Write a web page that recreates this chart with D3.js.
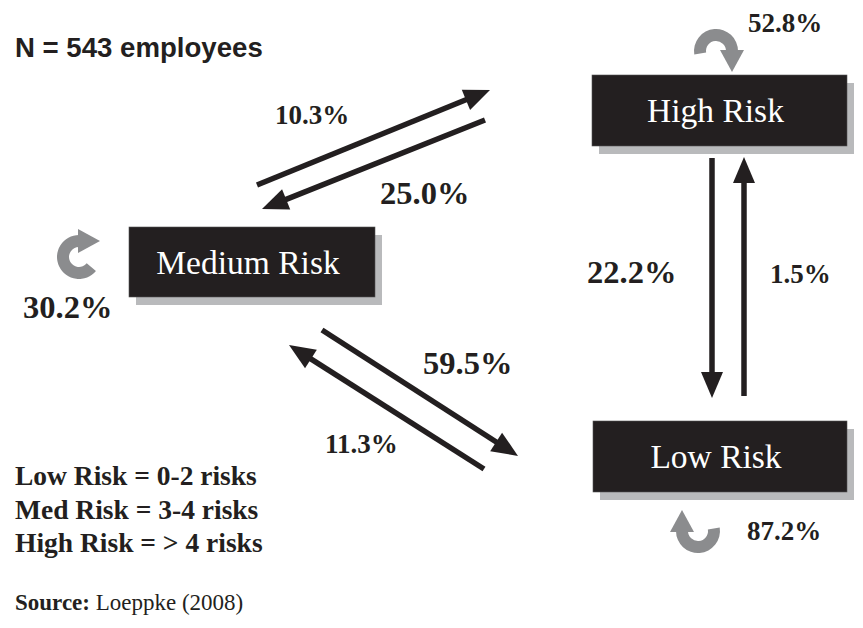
<!DOCTYPE html>
<html>
<head>
<meta charset="utf-8">
<script src="https://cdn.jsdelivr.net/npm/d3@7"></script>
<style>
  html, body { margin: 0; padding: 0; background: #fff; }
  svg { display: block; }
</style>
</head>
<body>
<svg id="chart" width="863" height="628"></svg>
<script>
// Risk transition diagram: share of employees moving between risk levels.

// ---- data ----
const STATES = ["High Risk", "Medium Risk", "Low Risk"];
const RETAINED_PCT = [52.8, 30.2, 87.2];           // same order as STATES
const TRANS_FROM = ["Medium Risk", "High Risk", "Medium Risk", "Low Risk", "High Risk", "Low Risk"];
const TRANS_TO   = ["High Risk", "Medium Risk", "Low Risk", "Medium Risk", "Low Risk", "High Risk"];
const TRANS_PCT  = [10.3, 25.0, 59.5, 11.3, 22.2, 1.5];
const SAMPLE_N = 543;
const DEFINITIONS = ["Low Risk = 0-2 risks", "Med Risk = 3-4 risks", "High Risk = > 4 risks"];
const SOURCE = "Loeppke (2008)";

// ---- layout (diagram geometry, not data) ----
const BOX = {
  "High Risk":   { x: 592, y: 75,  w: 255, h: 71 },
  "Medium Risk": { x: 129, y: 227, w: 246, h: 70 },
  "Low Risk":    { x: 593, y: 421, w: 254, h: 71 },
};
// start point -> arrow tip, label anchor and size
const ARROW = {
  "Medium Risk>High Risk":   { p: [257, 185, 490, 90],  lx: 275, ly: 124, big: false },
  "High Risk>Medium Risk":   { p: [485, 120, 262, 209], lx: 380, ly: 204, big: true },
  "Medium Risk>Low Risk":    { p: [322, 330, 518, 456], lx: 423, ly: 374, big: true },
  "Low Risk>Medium Risk":    { p: [484, 469, 289, 345], lx: 325, ly: 453, big: false },
  "High Risk>Low Risk":      { p: [712, 158, 712, 398], lx: 587, ly: 283, big: true },
  "Low Risk>High Risk":      { p: [744, 396, 744, 157], lx: 770, ly: 283, big: false },
};
// self loops: center, start/end angle (d3 convention), label anchor
const LOOP = {
  "High Risk":   { cx: 716, cy: 51,  a0: -0.55 * Math.PI, a1: 0.5 * Math.PI, lx: 748, ly: 32,  big: false },
  "Medium Risk": { cx: 79,  cy: 257, a0: 0.72 * Math.PI,  a1: 2 * Math.PI,   lx: 23,  ly: 318, big: true },
  "Low Risk":    { cx: 698, cy: 531, a0: 0.45 * Math.PI,  a1: 1.5 * Math.PI, lx: 747, ly: 540, big: false },
};

const DARK = "#231f20";
const GREY = "#8b8c8e";
const SHADOW = "#b9babc";
const SERIF = "'Liberation Serif', 'Times New Roman', serif";
const SANS = "'Liberation Sans', Arial, sans-serif";
const SMALL = 27;
const BIG = 32.5;
const LINE_W = 5.5;
const HEAD_LEN = 26;
const HEAD_HALF = 11;

const svg = d3.select("#chart");
const fmt = (v) => d3.format(".1f")(v) + "%";

function label(parent, x, y, size, str, family, weight) {
  return parent.append("text")
    .attr("x", x)
    .attr("y", y)
    .attr("font-family", family)
    .attr("font-weight", weight)
    .attr("font-size", size)
    .attr("fill", DARK)
    .text(str);
}

// ---- boxes ----
const boxes = svg.append("g").selectAll("g")
  .data(STATES)
  .join("g");

boxes.append("rect")
  .attr("x", (d) => BOX[d].x + 7)
  .attr("y", (d) => BOX[d].y + 8)
  .attr("width", (d) => BOX[d].w)
  .attr("height", (d) => BOX[d].h)
  .attr("fill", SHADOW);

boxes.append("rect")
  .attr("x", (d) => BOX[d].x)
  .attr("y", (d) => BOX[d].y)
  .attr("width", (d) => BOX[d].w)
  .attr("height", (d) => BOX[d].h)
  .attr("fill", DARK)
  .attr("stroke", "#555")
  .attr("stroke-width", 0.6);

boxes.append("text")
  .attr("x", (d) => BOX[d].x + BOX[d].w / 2 - 4)
  .attr("y", (d) => BOX[d].y + BOX[d].h / 2 + 11.5)
  .attr("text-anchor", "middle")
  .attr("font-family", SERIF)
  .attr("font-size", 33.5)
  .attr("fill", "#fff")
  .text((d) => d);

// ---- straight transition arrows ----
const transitions = TRANS_PCT.map((v, i) => ({
  key: TRANS_FROM[i] + ">" + TRANS_TO[i], value: v,
}));

const arrows = svg.append("g");
transitions.forEach((t) => {
  const a = ARROW[t.key];
  const [x1, y1, x2, y2] = a.p;
  const len = Math.hypot(x2 - x1, y2 - y1);
  const ux = (x2 - x1) / len, uy = (y2 - y1) / len;
  const bx = x2 - ux * HEAD_LEN, by = y2 - uy * HEAD_LEN;

  arrows.append("line")
    .attr("x1", x1).attr("y1", y1)
    .attr("x2", bx + ux * 2).attr("y2", by + uy * 2)
    .attr("stroke", DARK)
    .attr("stroke-width", LINE_W);

  arrows.append("path")
    .attr("d", d3.line()([
      [x2, y2],
      [bx - uy * HEAD_HALF, by + ux * HEAD_HALF],
      [bx + uy * HEAD_HALF, by - ux * HEAD_HALF],
    ]) + "Z")
    .attr("fill", DARK);

  label(arrows, a.lx, a.ly, a.big ? BIG : SMALL, fmt(t.value), SERIF, "bold");
});

// ---- self loops (grey curved arrows) ----
const loops = svg.append("g");
const R_IN = 10, R_OUT = 22;
STATES.forEach((s, i) => {
  const l = LOOP[s];
  loops.append("path")
    .attr("transform", `translate(${l.cx},${l.cy})`)
    .attr("d", d3.arc()({ innerRadius: R_IN, outerRadius: R_OUT, startAngle: l.a0, endAngle: l.a1 }))
    .attr("fill", GREY);

  // head sits on the end angle, pointing clockwise
  const rm = (R_IN + R_OUT) / 2;
  const nx = Math.sin(l.a1), ny = -Math.cos(l.a1);     // radial
  const tx = Math.cos(l.a1), ty = Math.sin(l.a1);      // tangent
  const mx = l.cx + rm * nx, my = l.cy + rm * ny;
  loops.append("path")
    .attr("d", d3.line()([
      [mx - tx * 1, my - ty * 1],
      [mx + nx * 12 - tx * 1, my + ny * 12 - ty * 1],
      [mx + tx * 21, my + ty * 21],
      [mx - nx * 12 - tx * 1, my - ny * 12 - ty * 1],
    ]) + "Z")
    .attr("fill", GREY);

  label(loops, l.lx, l.ly, l.big ? BIG : SMALL, fmt(RETAINED_PCT[i]), SERIF, "bold");
});

// ---- notes ----
label(svg, 15, 57, 27.6, `N = ${SAMPLE_N} employees`, SANS, "bold");

DEFINITIONS.forEach((d, i) => {
  label(svg, 15, 485 + i * 33.5, 27.5, d, SERIF, "bold");
});

const src = label(svg, 15, 610, 23, "", SERIF, "normal");
src.append("tspan").attr("font-weight", "bold").text("Source:");
src.append("tspan").text(" " + SOURCE);
</script>
</body>
</html>
